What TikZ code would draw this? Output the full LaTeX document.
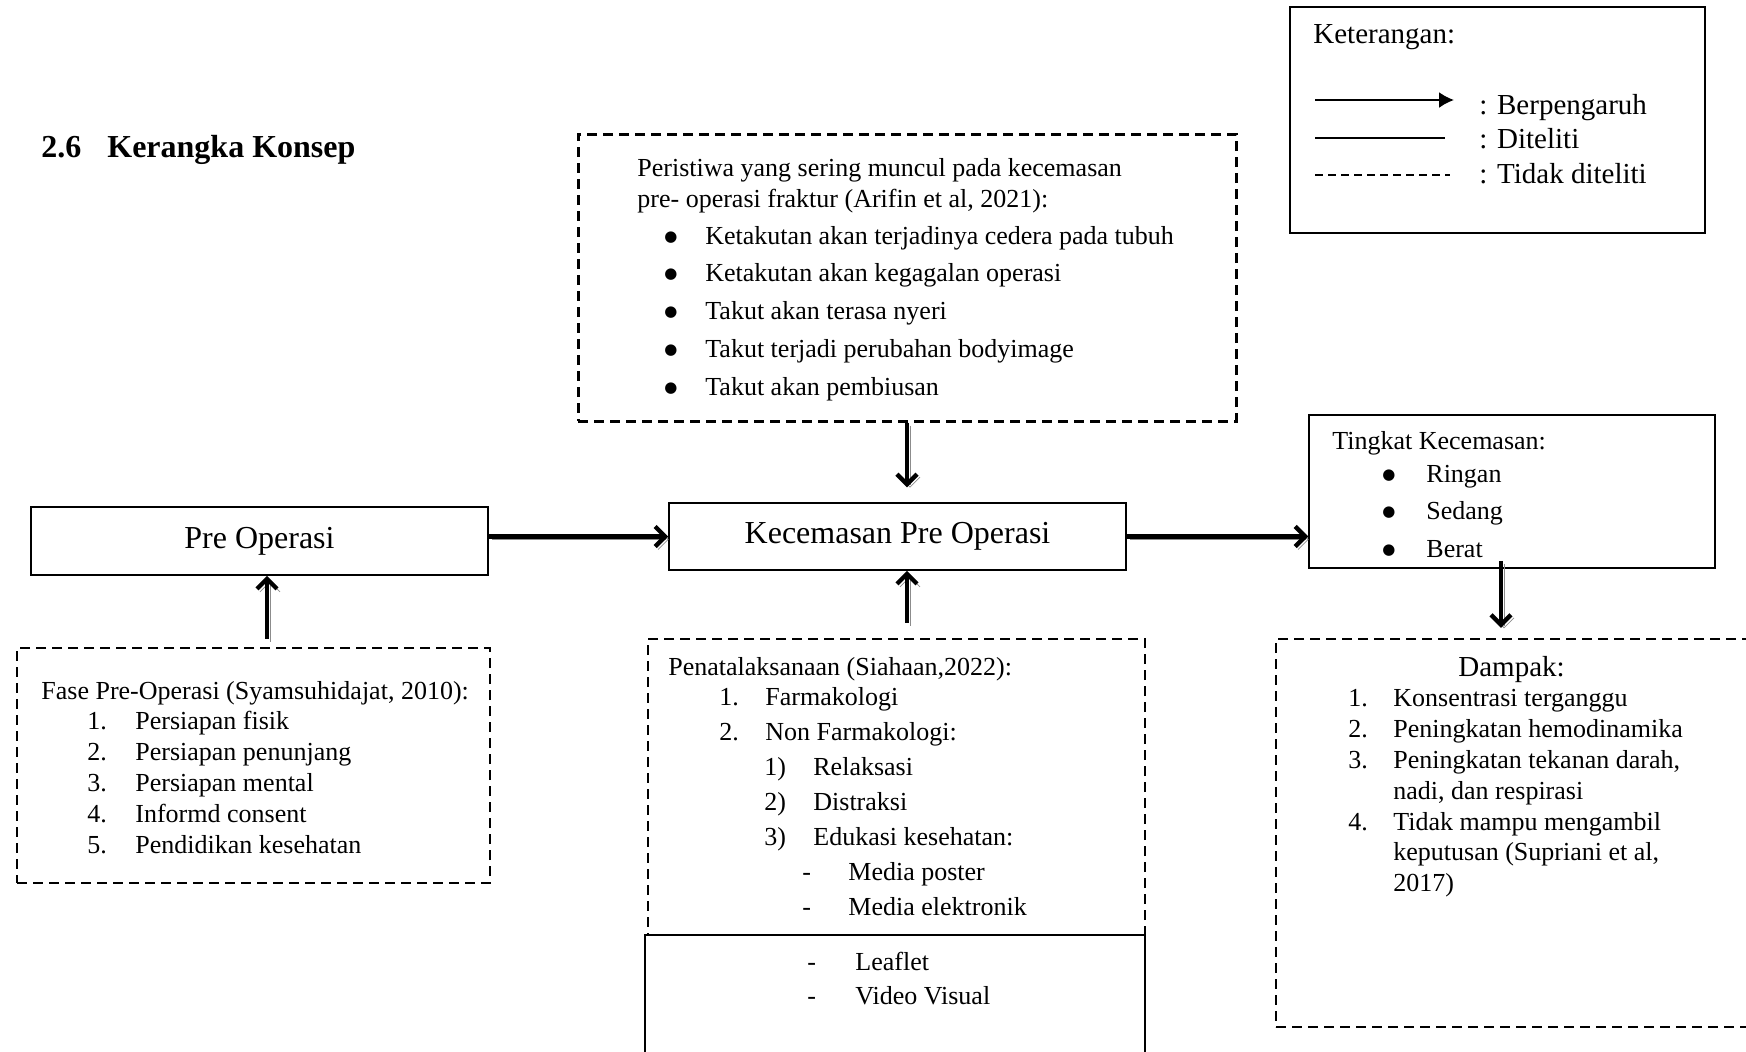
\documentclass[tikz,border=0pt]{standalone}
\usepackage{fontspec}
\setmainfont{Liberation Serif}
\newfontfamily\symfont{DejaVu Sans}
\usetikzlibrary{arrows.meta,positioning,fit,calc}
\newcommand{\lrow}[3]{\hspace*{#1}\makebox[#2][l]{#3}}
\newcommand{\bigbullet}{\raisebox{1.5pt}{\symfont\fontsize{7.5}{9}\selectfont ●}}
\tikzset{
  solidbox/.style={draw, line width=0.75pt, inner sep=0pt},
  dashbox/.style={draw, line width=1.1pt, dash pattern=on 5pt off 3pt, inner sep=0pt},
  maintext/.style={font=\fontsize{16}{19}\selectfont},
  bodytext/.style={inner sep=0pt, anchor=base west, font=\fontsize{13}{15.4}\selectfont},
  legtext/.style={font=\fontsize{14.5}{17.25}\selectfont},
  mainarrow/.style={-{Straight Barb[length=5pt,width=10pt]}, line width=2.2pt, preaction={draw=black!45, transform canvas={xshift=1.5pt,yshift=-1.5pt}}},
  legarrow/.style={-{Latex[length=7.5pt,width=8pt]}, line width=1pt}
}
\begin{document}
\begin{tikzpicture}[x=0.5pt, y=-0.5pt]
\useasboundingbox (0,0) rectangle (1746,1051);
\node[bodytext, font=\fontsize{16}{19}\selectfont\bfseries] (judul) at (41,157) {\makebox[33pt][l]{2.6}Kerangka Konsep};

\node[solidbox, line width=0.6pt, fit={(1290,7) (1705,233)}] (ket) {};
\node[bodytext, legtext] (kettitle) at (1313,43) {Keterangan:};
\node[bodytext, legtext] (ketitems) at (1479,114) {\begin{tabular}[t]{@{}l@{}}: Berpengaruh\\: Diteliti\\: Tidak diteliti\end{tabular}};
\coordinate (la1) at (1315,100);
\coordinate (la2) at (1454,100);
\coordinate (lb1) at (1315,138);
\coordinate (lb2) at (1445,138);
\coordinate (lc1) at (1315,175);
\coordinate (lc2) at (1450,175);
\draw[legarrow] (la1) -- (la2);
\draw[line width=0.8pt] (lb1) -- (lb2);
\draw[line width=0.7pt, dash pattern=on 4pt off 2.5pt] (lc1) -- (lc2);

\node[dashbox, line width=1.5pt, fit={(578,134) (1236,421)}] (peristiwa) {};
\node[bodytext, font=\fontsize{13}{15.5}\selectfont] (peristiwatxt) at (637,176) {\begin{tabular}[t]{@{}l@{}}
Peristiwa yang sering muncul pada kecemasan\\
pre- operasi fraktur (Arifin et al, 2021):\\[3pt]
\lrow{13.5pt}{20.5pt}{\bigbullet}Ketakutan akan terjadinya cedera pada tubuh\\[3.4pt]
\lrow{13.5pt}{20.5pt}{\bigbullet}Ketakutan akan kegagalan operasi\\[3.4pt]
\lrow{13.5pt}{20.5pt}{\bigbullet}Takut akan terasa nyeri\\[3.4pt]
\lrow{13.5pt}{20.5pt}{\bigbullet}Takut terjadi perubahan bodyimage\\[3.4pt]
\lrow{13.5pt}{20.5pt}{\bigbullet}Takut akan pembiusan
\end{tabular}};

\node[solidbox, maintext, minimum width=228.5pt, minimum height=34pt] (pre) at (259.5,541) {Pre Operasi};
\node[solidbox, maintext, minimum width=228.5pt, minimum height=33.5pt] (kecemasan) at (897.5,536.5) {Kecemasan Pre Operasi};

\node[solidbox, fit={(1309,415) (1715,568)}] (tingkat) {};
\node[bodytext, font=\fontsize{13}{16.5}\selectfont] (tingkattxt) at (1332,449) {\begin{tabular}[t]{@{}l@{}}
Tingkat Kecemasan:\\
\lrow{25pt}{22pt}{\bigbullet}Ringan\\[2.3pt]
\lrow{25pt}{22pt}{\bigbullet}Sedang\\[2.3pt]
\lrow{25pt}{22pt}{\bigbullet}Berat
\end{tabular}};

\node[dashbox, fit={(17,648) (490,883)}] (fase) {};
\node[bodytext] (fasetxt) at (41,699) {\begin{tabular}[t]{@{}l@{}}
Fase Pre-Operasi (Syamsuhidajat, 2010):\\
\lrow{23pt}{24pt}{1.}Persiapan fisik\\
\lrow{23pt}{24pt}{2.}Persiapan penunjang\\
\lrow{23pt}{24pt}{3.}Persiapan mental\\
\lrow{23pt}{24pt}{4.}Informd consent\\
\lrow{23pt}{24pt}{5.}Pendidikan kesehatan
\end{tabular}};

\node[dashbox, fit={(648,639) (1145,935)}] (penat) {};
\node[solidbox, fit={(645,935) (1145,1060)}] (media) {};
\node[bodytext, font=\fontsize{13}{15}\selectfont] (penattxt) at (668,675) {\begin{tabular}[t]{@{}l@{}}
Penatalaksanaan (Siahaan,2022):\\
\lrow{25.5pt}{23pt}{1.}Farmakologi\\[2.5pt]
\lrow{25.5pt}{23pt}{2.}Non Farmakologi:\\[2.5pt]
\lrow{48pt}{24.5pt}{1)}Relaksasi\\[2.5pt]
\lrow{48pt}{24.5pt}{2)}Distraksi\\[2.5pt]
\lrow{48pt}{24.5pt}{3)}Edukasi kesehatan:\\[2.5pt]
\lrow{67pt}{23pt}{-}Media poster\\[2.5pt]
\lrow{67pt}{23pt}{-}Media elektronik
\end{tabular}};
\node[bodytext, font=\fontsize{13}{17}\selectfont] (mediatxt) at (807,970) {\begin{tabular}[t]{@{}l@{}}
\lrow{0pt}{24pt}{-}Leaflet\\
\lrow{0pt}{24pt}{-}Video Visual
\end{tabular}};

\node[dashbox, fit={(1276,639) (1752,1027)}] (dampak) {};
\node[bodytext] (dampaktxt) at (1348,676) {\begin{tabular}[t]{@{}l@{}}
\hspace*{55pt}{\fontsize{14.5}{15.4}\selectfont Dampak:}\\
\lrow{0pt}{22.5pt}{1.}Konsentrasi terganggu\\
\lrow{0pt}{22.5pt}{2.}Peningkatan hemodinamika\\
\lrow{0pt}{22.5pt}{3.}Peningkatan tekanan darah,\\
\hspace*{22.5pt}nadi, dan respirasi\\
\lrow{0pt}{22.5pt}{4.}Tidak mampu mengambil\\
\hspace*{22.5pt}keputusan (Supriani et al,\\
\hspace*{22.5pt}2017)
\end{tabular}};

\coordinate (fup) at ([xshift=6.75pt,yshift=4pt]fase.north);
\coordinate (tdx) at ([xshift=-5.5pt,yshift=4pt]tingkat.south);
\draw[mainarrow] (pre.east |- kecemasan.west) -- (kecemasan.west);
\draw[mainarrow] (kecemasan.east) -- (kecemasan.east -| tingkat.west);
\draw[mainarrow, shorten >=7.5pt] (peristiwa.south) -- (peristiwa.south |- kecemasan.north);
\draw[mainarrow, shorten <=7.5pt] (peristiwa.south |- penat.north) -- (peristiwa.south |- kecemasan.south);
\draw[mainarrow] (fup) -- (fup |- pre.south);
\draw[mainarrow, shorten >=5pt] (tdx) -- (tdx |- dampak.north);
\end{tikzpicture}
\end{document}
